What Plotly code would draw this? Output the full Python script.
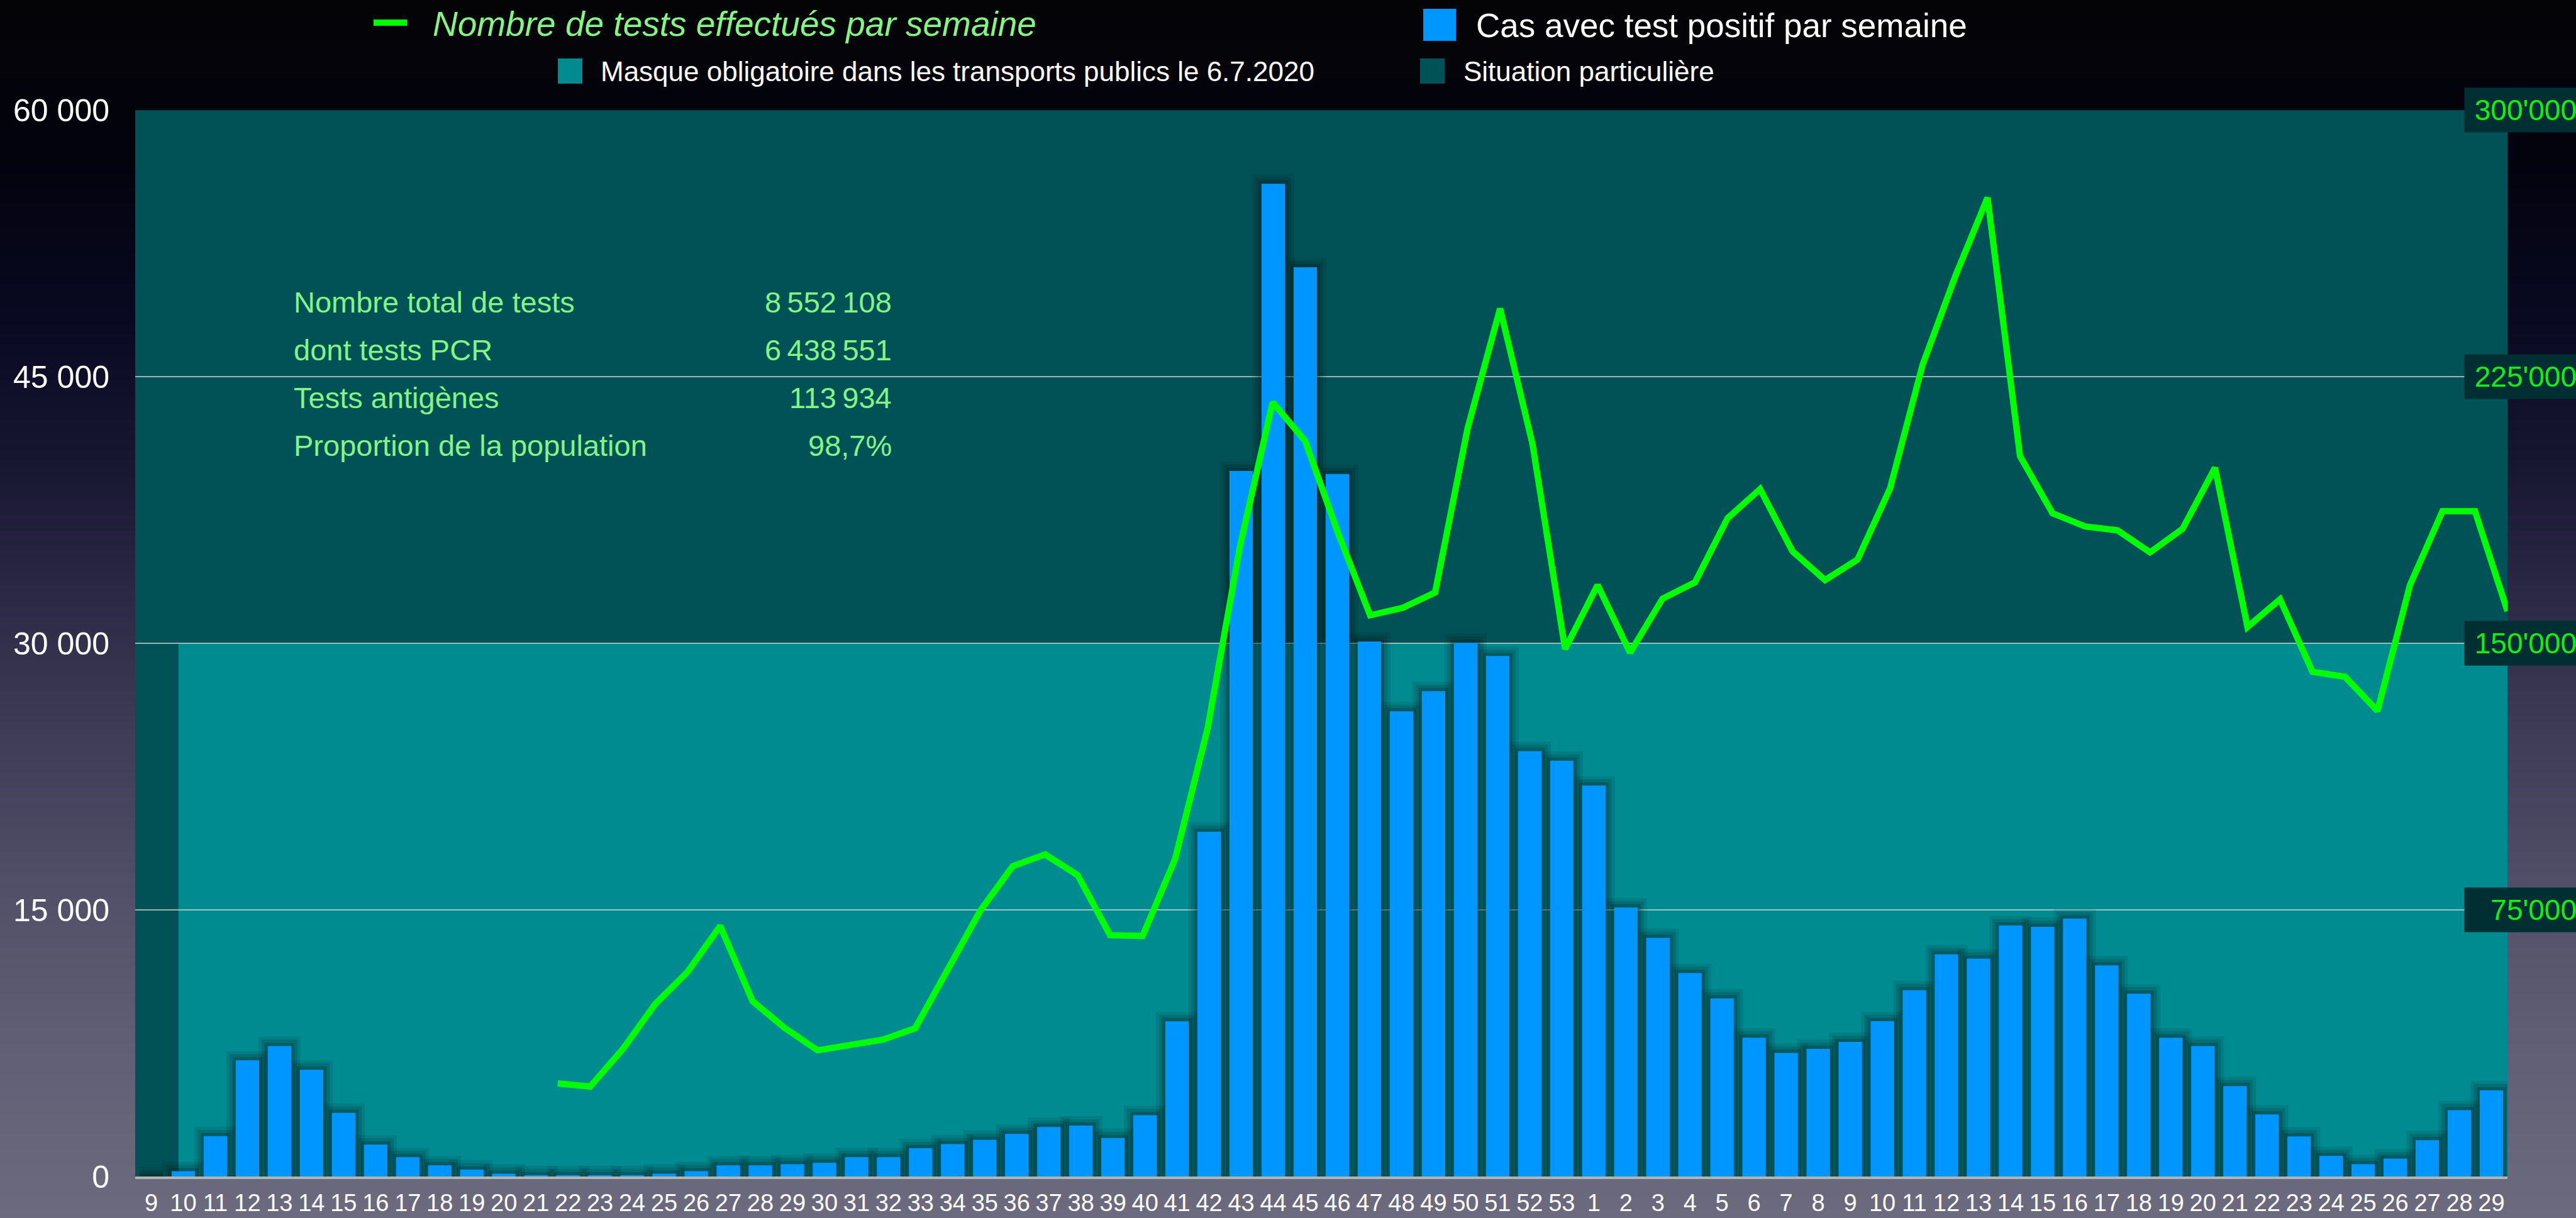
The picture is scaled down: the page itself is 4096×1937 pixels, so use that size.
import base64
import struct
import zlib

import plotly.graph_objects as go

# ---------------- data ----------------
week_labels = [
    "9", "10", "11", "12", "13", "14", "15", "16", "17", "18", "19", "20", "21", "22", "23",
    "24", "25", "26", "27", "28", "29", "30", "31", "32", "33", "34", "35", "36", "37", "38",
    "39", "40", "41", "42", "43", "44", "45", "46", "47", "48", "49", "50", "51", "52", "53",
    "1", "2", "3", "4", "5", "6", "7", "8", "9", "10", "11", "12", "13", "14", "15",
    "16", "17", "18", "19", "20", "21", "22", "23", "24", "25", "26", "27", "28", "29",
]

cases_per_week = [
    0, 300, 2270, 6540, 7340, 6010, 3580, 1800, 1090, 630, 390, 160, 70, 70, 70,
    70, 160, 300, 630, 630, 690, 770, 1090, 1090, 1590, 1820, 2060, 2400, 2790, 2870,
    2170, 3450, 8730, 19400, 39700, 55860, 51170, 39530, 30100, 26180, 27310, 30020, 29290, 23940, 23400,
    22000, 15140, 13430, 11450, 10020, 7810, 6950, 7180, 7570, 8740, 10480, 12500, 12260, 14130, 14050,
    14520, 11880, 10290, 7810, 7340, 5090, 3490, 2260, 1160, 690, 1010, 2040, 3730, 4850,
]

tests_per_week = [
    None, None, None, None, None, None, None, None, None, None, None, None, None, 26200, 25300,
    35800, 48500, 57600, 70500, 49300, 41700, 35500, 37100, 38500, 41700, 58200, 74700, 87300, 90600, 84800,
    67900, 67700, 89300, 126100, 177500, 217800, 207000, 181400, 157900, 160000, 164300, 210500, 244200, 206000, 148400,
    166400, 147400, 162600, 167200, 185200, 193400, 175900, 167800, 173600, 193600, 228300, 253100, 275400, 202700, 186600,
    182900, 181800, 175600, 182200, 199400, 154600, 162400, 142000, 140600, 131000, 166400, 187200, 187200, 159100,
]

left_ticks = [0, 15000, 30000, 45000, 60000]
left_tick_text = ["0", "15 000", "30 000", "45 000", "60 000"]
right_ticks = [75000, 150000, 225000, 300000]
right_tick_text = ["75'000", "150'000", "225'000", "300'000"]

situation_level = 60000
masque_level = 30000
masque_start = 0.85   # left edge of the "masque" zone, in category units

stats_labels = ["Nombre total de tests", "dont tests PCR", "Tests antigènes", "Proportion de la population"]
stats_values = ["8\u2009552\u2009108", "6\u2009438\u2009551", "113\u2009934", "98,7%"]

legend_tests = "Nombre de tests effectués par semaine"
legend_cases = "Cas avec test positif par semaine"
legend_masque = "Masque obligatoire dans les transports publics le 6.7.2020"
legend_situation = "Situation particulière"

# ---------------- styles ----------------
FONT = "Helvetica Neue, Helvetica, Liberation Sans, Arial, sans-serif"
BAR_COLOR = "#0096ff"
LINE_COLOR = "#00ff00"
DARK_TEAL = "#005257"
LIGHT_TEAL = "#008b91"
LIGHT_GREEN = "#82f582"
BOX_COLOR = "#002f33"

W, H = 4096, 1937
L, R, T, B = 215, 109, 175, 66
PW, PH = W - L - R, H - T - B


def px(x):
    return (x - L) / PW


def py(y):
    return (H - B - y) / PH


def gradient_png(stops, height):
    rows = []
    for r in range(height):
        y = r / (height - 1)
        for (y0, c0), (y1, c1) in zip(stops[:-1], stops[1:]):
            if y0 <= y <= y1:
                f = (y - y0) / (y1 - y0) if y1 > y0 else 0
                rgb = [int(round(a + (b - a) * f)) for a, b in zip(c0, c1)]
                break
        rows.append(b"\x00" + bytes(rgb) * 2)
    raw = b"".join(rows)

    def chunk(tag, data):
        return (struct.pack(">I", len(data)) + tag + data
                + struct.pack(">I", zlib.crc32(tag + data) & 0xFFFFFFFF))

    png = (b"\x89PNG\r\n\x1a\n"
           + chunk(b"IHDR", struct.pack(">IIBBBBB", 2, height, 8, 2, 0, 0, 0))
           + chunk(b"IDAT", zlib.compress(raw))
           + chunk(b"IEND", b""))
    return "data:image/png;base64," + base64.b64encode(png).decode()


bg_stops = [
    (0.00, (4, 4, 7)),
    (0.13, (3, 3, 14)),
    (0.26, (9, 9, 34)),
    (0.38, (24, 23, 50)),
    (0.47, (40, 38, 66)),
    (0.60, (62, 60, 86)),
    (0.73, (82, 80, 104)),
    (0.86, (97, 95, 117)),
    (1.00, (108, 106, 126)),
]

x_idx = list(range(len(week_labels)))
BAR_WIDTH = 0.73

fig = go.Figure()

# soft dark halo behind the bars (drawn as widening outlines)
for lw, alpha in [(30, 0.10), (20, 0.14), (10, 0.22)]:
    fig.add_trace(go.Bar(
        x=x_idx, y=cases_per_week, width=BAR_WIDTH,
        marker=dict(color="rgba(0,0,0,0)", line=dict(width=lw, color=f"rgba(0,18,22,{alpha})")),
        showlegend=False, hoverinfo="skip", xaxis="x", yaxis="y",
    ))

fig.add_trace(go.Bar(
    x=x_idx, y=cases_per_week, width=BAR_WIDTH,
    marker=dict(color=BAR_COLOR, line=dict(width=0)),
    name=legend_cases, showlegend=False, xaxis="x", yaxis="y",
))

fig.add_trace(go.Scatter(
    x=x_idx, y=tests_per_week, mode="lines",
    line=dict(color=LINE_COLOR, width=10),
    name=legend_tests, showlegend=False, xaxis="x2", yaxis="y2",
    connectgaps=False,
))

shapes = [
    dict(type="rect", xref="x", yref="y", x0=-0.5, x1=len(week_labels) - 0.5,
         y0=0, y1=situation_level, fillcolor=DARK_TEAL, line=dict(width=0), layer="below"),
    dict(type="rect", xref="x", yref="y", x0=masque_start, x1=len(week_labels) - 0.5,
         y0=0, y1=masque_level, fillcolor=LIGHT_TEAL, line=dict(width=0), layer="below"),
    # legend swatches
    dict(type="rect", xref="paper", yref="paper", x0=px(594), x1=px(647), y0=py(31), y1=py(41),
         fillcolor=LINE_COLOR, line=dict(width=0)),
    dict(type="rect", xref="paper", yref="paper", x0=px(2263), x1=px(2315), y0=py(14), y1=py(65),
         fillcolor=BAR_COLOR, line=dict(width=0)),
    dict(type="rect", xref="paper", yref="paper", x0=px(887), x1=px(926), y0=py(93), y1=py(133),
         fillcolor=LIGHT_TEAL, line=dict(width=0)),
    dict(type="rect", xref="paper", yref="paper", x0=px(2258), x1=px(2297), y0=py(93), y1=py(133),
         fillcolor=DARK_TEAL, line=dict(width=0)),
]

annotations = [
    dict(text="<i>" + legend_tests + "</i>", x=px(686), y=py(38), xref="paper", yref="paper",
         xanchor="left", yanchor="middle", showarrow=False,
         font=dict(family=FONT, size=55, color=LIGHT_GREEN)),
    dict(text=legend_cases, x=px(2345), y=py(41), xref="paper", yref="paper",
         xanchor="left", yanchor="middle", showarrow=False,
         font=dict(family=FONT, size=53, color="white")),
    dict(text=legend_masque, x=px(953), y=py(114), xref="paper", yref="paper",
         xanchor="left", yanchor="middle", showarrow=False,
         font=dict(family=FONT, size=44, color="white")),
    dict(text=legend_situation, x=px(2325), y=py(114), xref="paper", yref="paper",
         xanchor="left", yanchor="middle", showarrow=False,
         font=dict(family=FONT, size=44, color="white")),
]

stat_centers = [480, 556, 632, 708]
for lab, val, yc in zip(stats_labels, stats_values, stat_centers):
    annotations.append(dict(text=lab, x=px(465), y=py(yc), xref="paper", yref="paper",
                            xanchor="left", yanchor="middle", showarrow=False,
                            font=dict(family=FONT, size=47, color=LIGHT_GREEN)))
    annotations.append(dict(text=val, x=px(1420), y=py(yc), xref="paper", yref="paper",
                            xanchor="right", yanchor="middle", showarrow=False,
                            font=dict(family=FONT, size=47, color=LIGHT_GREEN)))

for v, t in zip(right_ticks, right_tick_text):
    annotations.append(dict(text=t, x=px(3918), y=v, xref="paper", yref="y2",
                            xanchor="left", yanchor="middle", showarrow=False,
                            width=172, height=58, align="right", borderpad=6,
                            bgcolor=BOX_COLOR,
                            font=dict(family=FONT, size=46, color="#14ee14")))

fig.update_layout(
    width=W, height=H, autosize=False,
    margin=dict(l=L, r=R, t=T, b=B, pad=0, autoexpand=False),
    paper_bgcolor="#2a2940",
    plot_bgcolor="rgba(0,0,0,0)",
    showlegend=False,
    barmode="overlay",
    font=dict(family=FONT, color="white"),
    xaxis=dict(
        range=[-0.5, len(week_labels) - 0.5],
        tickmode="array", tickvals=x_idx, ticktext=week_labels,
        tickangle=0, ticks="", showgrid=False, zeroline=False,
        showline=True, linecolor="#b4b4b4", linewidth=4,
        tickfont=dict(family=FONT, size=38, color="white"),
        ticklabelstandoff=5, automargin=False,
    ),
    xaxis2=dict(
        range=[0, len(week_labels) - 1], overlaying="x", visible=False, automargin=False,
    ),
    yaxis=dict(
        range=[0, situation_level * 1.0002],
        tickmode="array", tickvals=left_ticks, ticktext=left_tick_text,
        ticks="", showgrid=True, gridcolor="rgba(205,215,215,0.75)", gridwidth=2,
        zeroline=False, showline=False,
        tickfont=dict(family=FONT, size=50, color="white"),
        ticklabelstandoff=40, automargin=False,
    ),
    yaxis2=dict(
        range=[0, 300000 * 1.0002], overlaying="y", side="right",
        showgrid=False, zeroline=False, showticklabels=False, ticks="", automargin=False,
    ),
    shapes=shapes,
    annotations=annotations,
    images=[dict(
        source=gradient_png(bg_stops, 256),
        xref="paper", yref="paper", x=px(0), y=py(0),
        sizex=W / PW, sizey=H / PH, xanchor="left", yanchor="top",
        sizing="stretch", layer="below",
    )],
)

fig.write_html(
    "out.html",
    config={"displayModeBar": False},
    post_script="document.body.style.margin='0';document.body.style.overflow='hidden';",
)
